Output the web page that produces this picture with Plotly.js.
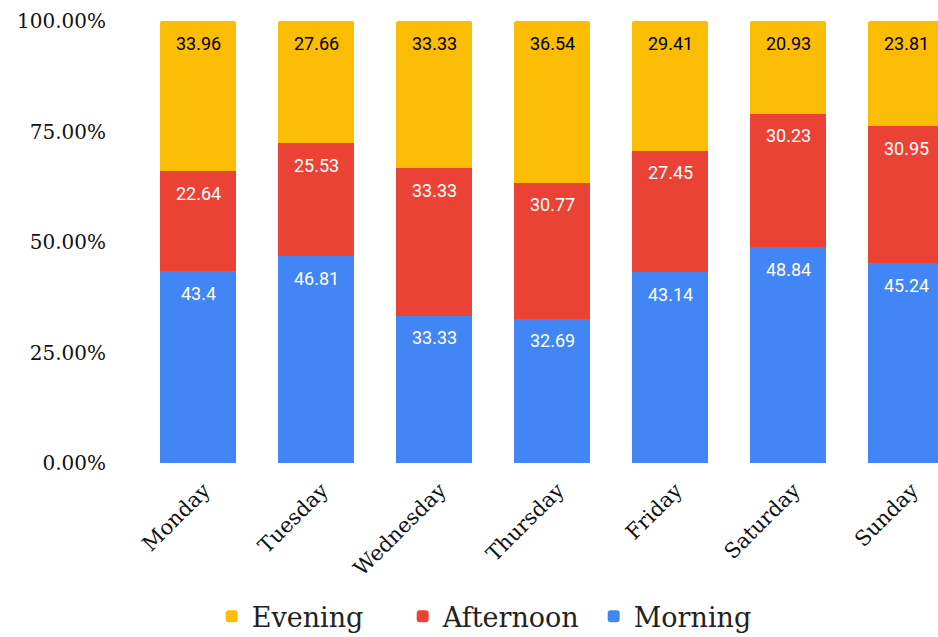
<!DOCTYPE html>
<html>
<head>
<meta charset="utf-8">
<script src="https://cdn.plot.ly/plotly-3.0.1.min.js"></script>
<style>
  html, body { margin: 0; padding: 0; overflow: hidden; background: #fff; }
  #chart { width: 980px; height: 637px; }
</style>
</head>
<body>
<div id="chart"></div>
<script>
// Share of visits by time of day, per weekday (percent)
const days = ["Monday", "Tuesday", "Wednesday", "Thursday", "Friday", "Saturday", "Sunday"];
const morning   = [43.4, 46.81, 33.33, 32.69, 43.14, 48.84, 45.24];
const afternoon = [22.64, 25.53, 33.33, 30.77, 27.45, 30.23, 30.95];
const evening   = [33.96, 27.66, 33.33, 36.54, 29.41, 20.93, 23.81];
const yTicks = [0, 25, 50, 75, 100];
const yTickText = ["0.00%", "25.00%", "50.00%", "75.00%", "100.00%"];

const series = [
  { name: "Morning",   values: morning,   color: "#4285F4", textColor: "#ffffff" },
  { name: "Afternoon", values: afternoon, color: "#EA4335", textColor: "#ffffff" },
  { name: "Evening",   values: evening,   color: "#FBBC04", textColor: "#000000" }
];

const traces = series.map(s => ({
  type: "bar",
  name: s.name,
  x: days,
  y: s.values,
  marker: { color: s.color },
  hoverinfo: "x+y+name"
}));

// Value labels sit just under the top edge of each segment
const annotations = [];
const cumulative = days.map(() => 0);
series.forEach(s => {
  s.values.forEach((v, i) => {
    cumulative[i] += v;
    annotations.push({
      x: days[i],
      y: cumulative[i],
      xref: "x", yref: "y",
      text: String(v),
      showarrow: false,
      yanchor: "middle",
      yshift: -22,
      font: { family: "Roboto, sans-serif", size: 18, color: s.textColor }
    });
  });
});

const serif = "DejaVu Serif, Georgia, serif";

const layout = {
  width: 980,
  height: 637,
  margin: { l: 139, r: 15, t: 21, b: 174, autoexpand: false },
  paper_bgcolor: "#ffffff",
  plot_bgcolor: "#ffffff",
  barmode: "stack",
  bargap: 0.35,
  barcornerradius: 3,
  showlegend: true,
  legend: {
    orientation: "h",
    traceorder: "reversed",
    x: 0.088, xanchor: "left",
    y: -0.348, yanchor: "middle",
    entrywidth: 146,
    entrywidthmode: "pixels",
    font: { family: serif, size: 27, color: "#222222" },
    itemclick: false
  },
  xaxis: {
    type: "category",
    tickangle: -45,
    automargin: false,
    showgrid: false,
    zeroline: false,
    showline: false,
    ticks: "",
    ticklabelstandoff: 10,
    ticklabelshift: 6,
    tickfont: { family: serif, size: 21, color: "#111111" }
  },
  yaxis: {
    range: [0, 100],
    tickvals: yTicks,
    ticktext: yTickText,
    automargin: false,
    showgrid: false,
    zeroline: false,
    showline: false,
    ticks: "",
    ticklabelstandoff: 32,
    tickfont: { family: serif, size: 20, color: "#111111" }
  },
  annotations: annotations
};

Plotly.newPlot("chart", traces, layout, { displayModeBar: false, staticPlot: true });
</script>
</body>
</html>
